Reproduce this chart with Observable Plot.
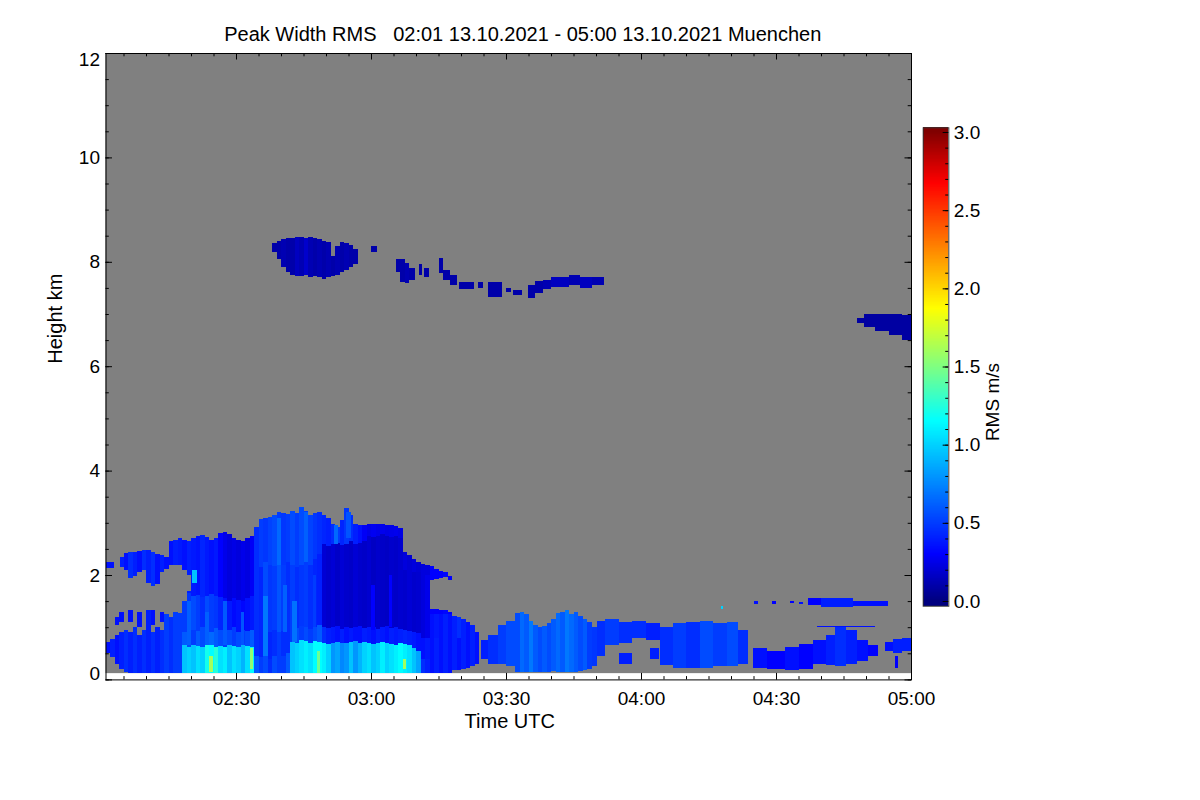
<!DOCTYPE html>
<html><head><meta charset="utf-8">
<script src="https://cdn.jsdelivr.net/npm/d3@7"></script>
<script src="https://cdn.jsdelivr.net/npm/@observablehq/plot@0.6"></script>
<style>
body{margin:0;background:#fff;}
#wrap{position:relative;width:1200px;height:800px;}
#wrap svg{position:absolute;top:0;}
</style></head><body><div id="wrap"></div>
<script>
// ---------------- DATA (minutes after 02:00 UTC, heights in km, RMS in m/s) ----------------
const titleText = "Peak Width RMS   02:01 13.10.2021 - 05:00 13.10.2021 Muenchen";
const xTickLabels = ["02:30", "03:00", "03:30", "04:00", "04:30", "05:00"];
const yTickLabels = [0, 2, 4, 6, 8, 10, 12];
const cbTickLabels = [0.0, 0.5, 1.0, 1.5, 2.0, 2.5, 3.0];
const cmapStops = [0, 0.3, 1.15, 1.5, 1.87, 2.67, 3.0];
const cmapColors = ["#000080", "#0000ff", "#00ffff", "#80ff80", "#ffff00", "#ff0000", "#800000"];
const timeStart = 1, timeEnd = 180, dataFloor = 0.12;

// main convective cloud, one column per minute (02:15 ... 03:23)
const mainT = [15,16,17,18,19,20,21,22,23,24,25,26,27,28,29,30,31,32,33,34,35,36,37,38,39,40,41,42,43,44,45,46,47,48,49,50,51,52,53,54,55,56,57,58,59,60,61,62,63,64,65,66,67,68,69,70,71,72,73,74,75,76,77,78,79,80,81,82,83];
const mainTop = [2.65,2.67,2.70,2.68,2.66,2.70,2.74,2.77,2.72,2.68,
 2.70,2.80,2.83,2.78,2.70,2.68,2.66,2.70,2.75,2.92,
 3.08,3.10,3.12,3.15,3.20,3.18,3.16,3.22,3.18,3.30,
 3.22,3.15,3.18,3.20,3.15,3.10,2.98,2.92,3.05,3.28,
 3.15,2.98,2.95,2.96,2.98,2.97,2.98,2.97,2.96,2.95,
 2.94,2.90,2.45,2.38,2.30,2.25,2.22,2.20,2.18,2.12,
 2.08,2.05,1.98,1.22,1.20,1.15,1.10,1.05,0.90];
const mainBottom = [2.2,2.2,0.12,0.12,0.12,0.12,0.12,0.12,0.12,0.12,
 0.12,0.12,0.12,0.12,0.12,0.12,0.12,0.12,0.12,0.12,
 0.12,0.12,0.12,0.12,0.12,0.12,0.12,0.12,0.12,0.12,
 0.12,0.12,0.12,0.12,0.12,0.12,0.12,0.12,0.12,0.12,
 0.12,0.12,0.12,0.12,0.12,0.12,0.12,0.12,0.12,0.12,
 0.12,0.12,0.12,0.12,0.12,0.12,0.12,0.12,0.12,0.12,
 0.12,0.12,0.12,0.18,0.18,0.20,0.22,0.25,0.30];
const lowTop = [.63,.63,
 .62,.65,.63,.66,.64,.62,.65,.66,.63,.64,.62,.65,.64,.63,.66,.64,.62,
 .45,.42,.45,.4,.45,.42,.45,.5,
 .72,.7,.75,.73,.7,.74,.72,.7,.68,.7,.72,.7,.69,.72,.74,.7,.72,.7,.68,.7,.72,.7,.68,.66,.7,.68,.65,.6,.55,
 .4,.4,.4,.4,.4,.4,.4,.4,.4,.4,.4,.4,.4];
const lowVal = [.4,.4,
 .85,.95,1.0,.95,1.05,1.0,1.2,1.15,1.25,1.05,
 1.1,.95,1.05,1.0,.9,1.05,1.15,.6,.5,.55,
 .45,.55,.5,.5,.6,.95,1.0,1.05,1.1,1.05,
 1.15,1.15,1.1,1.0,.8,.85,.75,.8,.95,.8,
 .9,1.0,1.05,.95,1.0,1.1,1.0,1.05,1.1,1.15,
 1.1,1.05,.95,.85,.45,.4,.35,.4,.35,.4,
 .35,.4,.35,.4,.35,.4,.35];
const transTop = [.95,.95,
 .95,.9,1.0,.95,.92,1.0,.95,.9,.98,.95,
 .92,.95,1.0,.9,.95,.92,.95,.9,.88,.92,
 .9,.95,.9,.92,.9,1.0,.98,1.02,1.0,.97,
 1.0,1.05,1.0,.98,1.0,1.02,.97,1.0,.98,1.0,
 1.02,.98,1.0,1.0,.97,1.0,1.02,.98,1.0,.96,
 .95,.92,.9,.88,.8,.8,.8,.8,.8,.8,
 .8,.8,.8,.8,.8,.8,.8];
const transVal = [.4,.4,
 .55,.6,.55,.5,.6,.55,.6,.65,.6,.55,
 .5,.55,.5,.55,.5,.55,.6,.45,.42,.45,
 .42,.45,.5,.45,.45,.5,.55,.5,.55,.5,
 .55,.6,.45,.4,.38,.35,.4,.35,.38,.35,
 .35,.4,.38,.35,.4,.38,.35,.4,.38,.4,
 .42,.4,.38,.35,.35,.38,.35,.4,.35,.4,
 .35,.4,.35,.4,.35,.4,.35];
const midTop = [1.6,1.62,1.58,1.6,1.65,1.6,1.62,1.58,1.6,1.63,1.6,1.58,
 1.55,1.5,1.55,1.52,1.5,1.55,1.6,
 2.2,2.15,2.25,2.2,2.18,2.22,2.2,2.25,2.2,2.15,2.2,2.25,2.2,2.3,2.4,
 2.6,2.55,2.6,2.62,2.58,2.6,2.65,2.6,2.62,2.65,
 2.75,2.72,2.75,2.78,2.75,2.72,2.75,2.7,
 2.1,2.1,2.05,2.05,2.0,2.0,
 1.25,1.25,1.25,1.25,1.25,1.25,1.25,1.25,1.25,1.25,1.25];
const midVal = [.4,.42,.45,.5,.48,.55,.5,.45,.55,.5,
 .48,.42,.35,.38,.33,.36,.32,.35,.38,.45,
 .42,.55,.48,.5,.58,.5,.45,.5,.45,.48,
 .5,.45,.42,.4,.2,.18,.2,.17,.2,.18,
 .17,.2,.18,.17,.19,.16,.18,.17,.16,.18,
 .17,.19,.18,.2,.18,.19,.22,.25,.35,.38,
 .35,.4,.35,.4,.45,.4,.35,.4,.35];
const upVal = [.35,.4,.38,.35,.4,.38,.36,.42,.38,.35,
 .38,.3,.25,.22,.24,.22,.25,.23,.28,.45,
 .5,.48,.52,.55,.5,.48,.5,.55,.5,.55,
 .5,.52,.48,.45,.42,.4,.45,.5,.42,.48,
 .45,.4,.35,.28,.25,.27,.25,.26,.24,.25,
 .26,.24,.22,.2,.22,.2,.22,.22,.3,.3,
 .3,.32,.3,.35,.35,.35,.35,.35,.35];
// gaps inside main cloud columns: [minute, gapBottom, gapTop]
const mainGaps = [[17,1.27,2.2],[18,1.5,2.1],[19,1.7,2.0],[73,1.35,1.9],[74,1.35,1.92],[75,1.33,1.95],[76,1.33,1.97],[77,1.3,1.9]];
// light streaks and bright spots inside the main cloud: [tStart, tEnd, bottom, top, rms]
const mainStreaks = [[19,20,0.65,1.5,0.62],[20.3,21.3,1.85,2.1,0.95],[23,24,0.66,1.3,0.62],[24,24.8,0.15,0.45,1.6],[27,28,0.66,1.5,0.6],[31,31.8,0.66,1.3,0.58],[33,33.8,0.2,0.6,1.55],
 [36,37,0.45,1.6,0.7],[39,40,2.2,3.1,0.65],[40.5,41.3,0.9,1.8,0.62],[42.5,43.5,0.72,1.5,0.68],[45,46,2.25,3.2,0.62],[47,47.8,1.0,2.0,0.5],[48,48.7,0.12,0.55,1.45],
 [51.7,52.6,2.6,2.95,0.65],[54.5,55.5,2.7,3.2,0.58],[60,60.8,0.95,1.8,0.3],[64,64.7,1.0,2.0,0.3],[67,67.8,0.2,0.4,1.6]];

// other echoes: [tStart, tEnd, bottom, top, rms]
const leftLayer = [[1,2.8,2.14,2.25,0.35],[4.3,5,2.15,2.35,0.4],[5,6,2.1,2.42,0.35],[6,7,1.95,2.45,0.45],[7,8,1.98,2.45,0.4],[8,9,2.05,2.46,0.35],[9,10,2.1,2.48,0.45],[10,11,1.85,2.47,0.4],[11,12,1.78,2.44,0.45],[12,13,1.82,2.40,0.35],[13,14,2.05,2.38,0.4],[14,15,2.12,2.35,0.35]];
const leftLow = [[1,2,0.5,0.72,0.35],[2,3,0.42,0.78,0.4],[3,4,0.3,0.85,0.35],[3,4,1.05,1.2,0.35],[4,5,0.2,0.9,0.4],[4,5,1.1,1.3,0.35],[5,6,0.15,0.95,0.45],[6,7,0.12,0.9,0.4],[6,7,1.1,1.33,0.35],[7,8,0.12,1.0,0.45],[8,9,0.12,0.85,0.4],[8,9,1.0,1.3,0.35],[9,10,0.12,0.95,0.45],[10,11,0.12,1.33,0.4],[11,12,0.12,0.9,0.45],[11,12,1.05,1.33,0.35],[12,13,0.12,1.0,0.4],[13,14,0.12,0.95,0.45],[13,14,1.1,1.3,0.35],[14,15,0.12,1.25,0.5],[15,16,0.12,1.2,0.45],[16,17,0.12,1.3,0.5],[17,18,0.12,1.27,0.5]];
const cirrusHigh = [[38,39,8.18,8.36,0.1],[39,40,8.05,8.40,0.1],[40,41,7.9,8.43,0.12],[41,42,7.8,8.45,0.1],[42,43,7.75,8.45,0.1],[43,44,7.72,8.47,0.15],[44,45,7.72,8.47,0.12],[45,46,7.74,8.46,0.18],[46,47,7.7,8.48,0.12],[47,48,7.72,8.46,0.1],[48,49,7.7,8.44,0.12],[49,50,7.68,8.40,0.1],[50,51,7.7,8.38,0.12],[51,52,7.72,8.12,0.1],[52,53,7.75,8.3,0.12],[53,54,7.8,8.38,0.1],[54,55,7.85,8.36,0.12],[55,56,7.9,8.32,0.1],[56,57,7.95,8.25,0.1],
 [60,61.3,8.18,8.3,0.1],
 [65.5,66.5,7.8,8.05,0.1],[66.5,67.5,7.62,8.05,0.1],[67.5,68.5,7.6,7.98,0.12],[68.5,69.8,7.65,7.88,0.1],
 [70.6,71.3,7.75,7.95,0.1],[71.8,72.8,7.7,7.88,0.1],
 [75,76,7.78,8.07,0.1],[76,77.5,7.65,7.85,0.1],[77.5,79,7.55,7.75,0.1],[79.5,82.8,7.48,7.62,0.1],[83.7,84.8,7.5,7.62,0.1],
 [86,89.2,7.33,7.62,0.1],[90,91,7.42,7.5,0.1],[91.5,93.5,7.36,7.46,0.1],[94.8,96.5,7.3,7.55,0.1],[96.5,98.3,7.4,7.64,0.1],
 [98.3,100,7.48,7.65,0.12],[100,104,7.52,7.7,0.15],[104,106.5,7.55,7.75,0.12],[106.5,109,7.5,7.7,0.15],[109,111.7,7.55,7.7,0.12]];
const cirrusRight = [[167.9,169.5,6.83,6.92,0.08],[169.5,172,6.75,7.0,0.08],[172,175,6.68,7.0,0.08],[175,178,6.6,7.0,0.08],[178,180,6.5,6.98,0.08]];
const lowClouds = [[84.5,86,0.4,0.75,0.4],[86,88.3,0.3,0.85,0.45],[88.3,90,0.3,1.05,0.5],[90,92,0.25,1.12,0.55],
 [92,93,0.15,1.28,0.55],[93,94,0.14,1.3,0.65],[94,95,0.14,1.25,0.6],[95,96,0.14,1.12,0.7],[96,97,0.14,1.05,0.6],[97,98,0.15,1.0,0.55],[98,99,0.14,1.02,0.6],[99,100,0.14,1.08,0.55],[100,101,0.16,1.15,0.6],
 [101,102,0.15,1.28,0.65],[102,103,0.14,1.3,0.6],[103,104,0.14,1.32,0.7],[104,105,0.14,1.25,0.65],[105,106,0.14,1.3,0.6],[106,107,0.16,1.22,0.55],[107,108,0.18,1.15,0.6],[108,109,0.2,1.1,0.5],[109,110.3,0.25,1.0,0.48],
 [110.3,112,0.45,1.12,0.45],[112,115,0.65,1.15,0.5],[115,118,0.7,1.1,0.45],[115,118,0.3,0.5,0.4],[118,121,0.8,1.12,0.45],[121,124.3,0.75,1.08,0.4],[122,124,0.4,0.6,0.4],
 [124.3,127,0.28,1.0,0.45],[127,130,0.22,1.08,0.5],[130,133,0.22,1.1,0.45],[133,136,0.22,1.12,0.55],[136,139,0.25,1.08,0.5],[139,141.5,0.25,1.1,0.55],[141.5,143.7,0.3,0.95,0.45],
 [137.7,138.2,1.35,1.4,1.0],
 [144.8,148,0.22,0.6,0.35],[148,152,0.2,0.55,0.3],[152,155,0.18,0.62,0.35],[155,158.3,0.2,0.68,0.3],
 [158.3,161,0.3,0.75,0.35],[161,163,0.28,0.85,0.4],[163,165.5,0.25,1.02,0.45],[165.5,168,0.3,0.95,0.4],[168,170.5,0.35,0.75,0.35],[170.5,172.6,0.45,0.65,0.3],
 [159,172,1.0,1.03,0.35],
 [157,160,1.42,1.56,0.3],[160,167,1.38,1.55,0.4],[167,174.8,1.4,1.5,0.35],
 [145,146,1.45,1.5,0.35],[149,150,1.45,1.5,0.3],[153,154,1.46,1.5,0.3],[155,156,1.45,1.49,0.35],
 [174.3,176,0.55,0.72,0.35],[176,178,0.5,0.78,0.4],[178,180,0.55,0.8,0.4],[176.5,177.2,0.22,0.45,0.3]];

// ---------------- BUILD ----------------
const T0 = Date.UTC(2021, 9, 13, 2, 0);
const toDate = m => new Date(T0 + m * 60000);
const parseHM = s => { const [h, m] = s.split(":").map(Number); return h * 60 + m - 120; };

const cells = [];
const push = (t1, t2, h1, h2, v) => { if (h2 > h1) cells.push({t1: toDate(t1), t2: toDate(t2), h1, h2, v}); };
mainT.forEach((m, i) => {
  const bot = mainBottom[i], top = mainTop[i];
  const gap = mainGaps.find(g => g[0] === m);
  const bands = [[bot, lowTop[i], lowVal[i]], [lowTop[i], transTop[i], transVal[i]], [transTop[i], midTop[i], midVal[i]], [midTop[i], top, upVal[i]]];
  for (const [a, b, v] of bands) {
    const lo = Math.max(a, bot), hi = Math.min(b, top);
    if (hi <= lo) continue;
    if (gap) { push(m, m + 1, lo, Math.min(hi, gap[1]), v); push(m, m + 1, Math.max(lo, gap[2]), hi, v); }
    else push(m, m + 1, lo, hi, v);
  }
});
for (const s of [...mainStreaks, ...leftLayer, ...leftLow, ...cirrusHigh, ...cirrusRight, ...lowClouds]) push(...s);

const font = "Liberation Sans, Arial, Helvetica, sans-serif";
const color = {type: "linear", domain: cmapStops, range: cmapColors, clamp: true};
const xMajor = xTickLabels.map(parseHM);
const xMinor = d3.range(5, 181, 5);
const yMinor = d3.range(0, 12.01, 0.5);
const kmPx = 12 / 626.4, minPx = 179 / 805.5;

const main = Plot.plot({
  width: 1200, height: 800,
  marginLeft: 105.5, marginRight: 289, marginTop: 53, marginBottom: 120.6,
  style: {fontFamily: font, fontSize: "19px", background: "transparent", color: "black"},
  x: {type: "utc", domain: [toDate(timeStart), toDate(timeEnd)], axis: null},
  y: {domain: [0, 12], axis: null},
  color,
  marks: [
    Plot.rect([0], {x1: toDate(timeStart), x2: toDate(timeEnd), y1: dataFloor, y2: 12, fill: "#808080"}),
    Plot.rect(cells, {x1: "t1", x2: "t2", y1: "h1", y2: "h2", fill: "v", shapeRendering: "crispEdges"}),
    // inward ticks
    Plot.ruleX(xMinor, {x: d => toDate(d), y1: 0, y2: 3.3 * kmPx, stroke: "black"}),
    Plot.ruleX(xMinor, {x: d => toDate(d), y1: 12 - 3.3 * kmPx, y2: 12, stroke: "black"}),
    Plot.ruleX(xMajor, {x: d => toDate(d), y1: 0, y2: 6.5 * kmPx, stroke: "black"}),
    Plot.ruleX(xMajor, {x: d => toDate(d), y1: 12 - 6.5 * kmPx, y2: 12, stroke: "black"}),
    Plot.ruleY(yMinor, {y: d => d, x1: toDate(timeStart), x2: toDate(timeStart + 3.3 * minPx), stroke: "black"}),
    Plot.ruleY(yMinor, {y: d => d, x1: toDate(timeEnd - 3.3 * minPx), x2: toDate(timeEnd), stroke: "black"}),
    Plot.ruleY(yTickLabels, {y: d => d, x1: toDate(timeStart), x2: toDate(timeStart + 6.5 * minPx), stroke: "black"}),
    Plot.ruleY(yTickLabels, {y: d => d, x1: toDate(timeEnd - 6.5 * minPx), x2: toDate(timeEnd), stroke: "black"}),
    Plot.frame({stroke: "black"}),
    // tick labels
    Plot.text(xTickLabels, {x: d => toDate(parseHM(d)), y: 0, text: d => d, dy: 19, fontSize: 19, fill: "black"}),
    Plot.text(yTickLabels.filter(d => d > 0 && d < 12), {x: toDate(timeStart), y: d => d, text: d => String(d), dx: -6, textAnchor: "end", fontSize: 19, fill: "black"}),
    Plot.text([0], {x: toDate(timeStart), y: d => d, text: d => String(d), dx: -6, dy: -6, textAnchor: "end", fontSize: 19, fill: "black"}),
    Plot.text([12], {x: toDate(timeStart), y: d => d, text: d => String(d), dx: -6, dy: 6, textAnchor: "end", fontSize: 19, fill: "black"}),
    // titles
    Plot.text([titleText], {frameAnchor: "top", dx: 14, dy: -13, lineAnchor: "bottom", fontSize: 20, fill: "black"}),
    Plot.text(["Time UTC"], {frameAnchor: "bottom", dx: 1, dy: 48, lineAnchor: "bottom", fontSize: 20, fill: "black"}),
    Plot.text(["Height km"], {frameAnchor: "left", dx: -50, dy: -3, rotate: -90, fontSize: 20, fill: "black"})
  ]
});

const cbVals = d3.range(-0.03, 3.03, 0.005);
const cbMinor = d3.range(0, 3.001, 0.1);
const colorbar = Plot.plot({
  width: 120, height: 800,
  marginLeft: 22.7, marginRight: 71.7, marginTop: 127.3, marginBottom: 194.3,
  style: {fontFamily: font, fontSize: "19px", background: "transparent", color: "black", overflow: "visible"},
  x: {domain: [0, 1], axis: null},
  y: {domain: [-0.03, 3.03], axis: null},
  color,
  marks: [
    Plot.rect(cbVals, {x1: 0, x2: 1, y1: d => d, y2: d => d + 0.006, fill: d => d, shapeRendering: "crispEdges"}),
    Plot.ruleY(cbMinor, {y: d => d, x1: 0.88, x2: 1, stroke: "black"}),
    Plot.ruleY(cbTickLabels, {y: d => d, x1: 0.78, x2: 1, stroke: "black"}),
    Plot.frame({stroke: "#333"}),
    Plot.text(cbTickLabels, {x: 1, y: d => d, text: d => d.toFixed(1), dx: 5, textAnchor: "start", fontSize: 19, fill: "black"}),
    Plot.text(["RMS m/s"], {frameAnchor: "right", dx: 44, dy: -4, rotate: -90, fontSize: 19, fill: "black"})
  ]
});
colorbar.style.left = "900px";
main.style.left = "0px";
const wrap = document.getElementById("wrap");
wrap.appendChild(main);
wrap.appendChild(colorbar);
</script></body></html>
